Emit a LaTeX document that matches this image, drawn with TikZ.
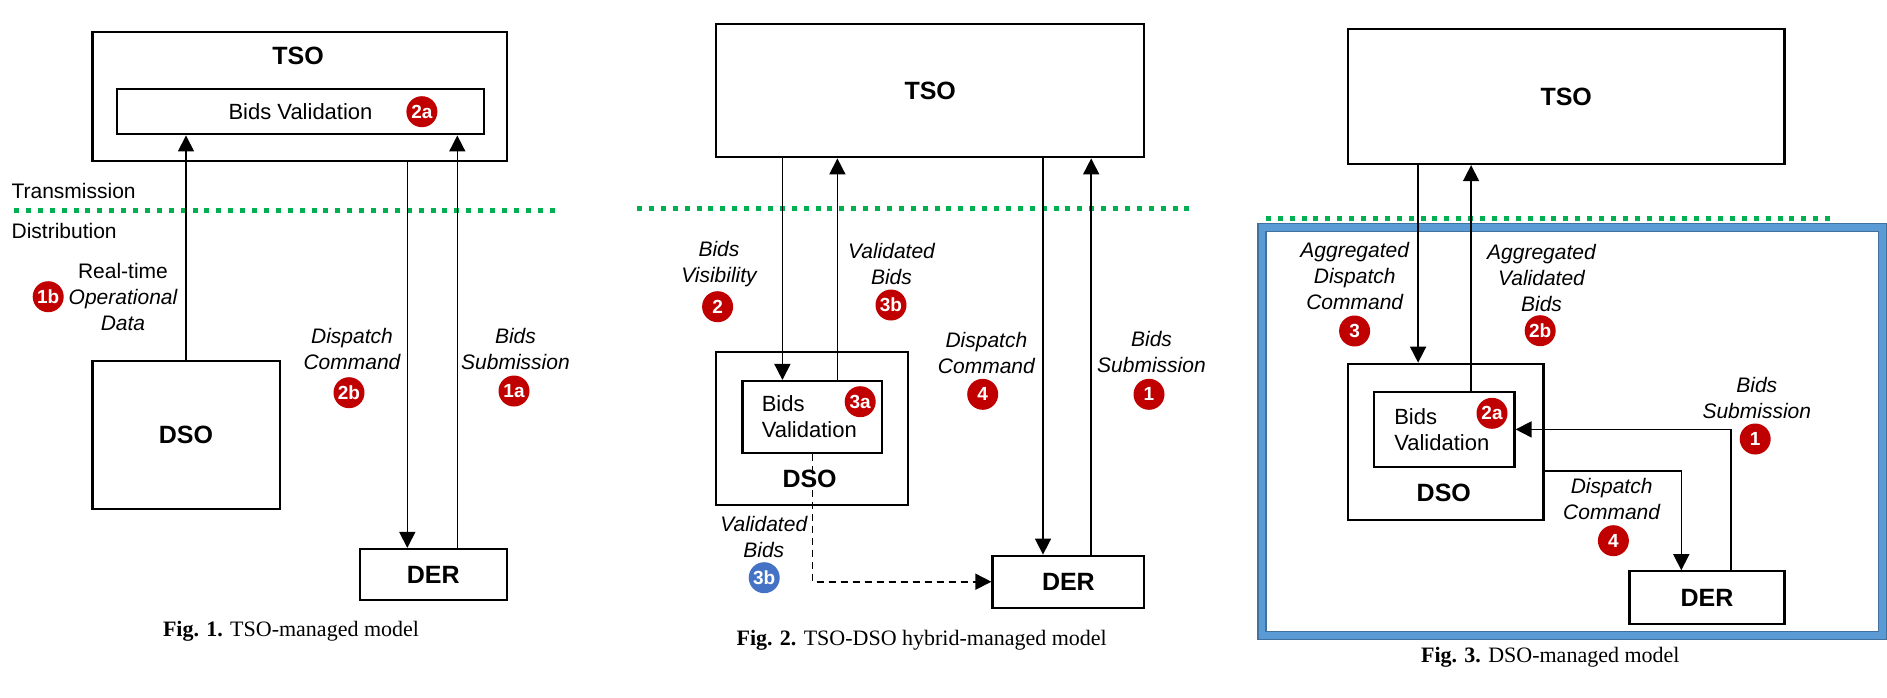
\documentclass[tikz,border=0pt]{standalone}
\usepackage{fontspec}
\setmainfont{Liberation Sans}
\newfontfamily\capfont{Liberation Serif}
\usetikzlibrary{arrows.meta,calc}
\definecolor{deep}{HTML}{000000}
\definecolor{badgered}{HTML}{C00000}
\definecolor{badgeblue}{HTML}{4472C4}
\definecolor{gridgreen}{HTML}{00B050}
\definecolor{frameblue}{HTML}{5B9BD5}
\definecolor{frameedge}{HTML}{41719C}
\tikzset{
  entity/.style={draw=deep, line width=1.1pt, fill=white, inner sep=0pt,
    font=\fontsize{12.5}{14}\selectfont\bfseries},
  title/.style={inner sep=0pt, font=\fontsize{12.5}{14}\selectfont\bfseries},
  inbox/.style={draw=deep, line width=1.1pt, fill=white, inner ysep=0pt,
    align=left, font=\fontsize{11}{13}\selectfont},
  badge/.style={circle, fill=badgered, text=white, inner sep=0pt, minimum size=15.5pt,
    font=\fontsize{9.5}{10}\selectfont\bfseries},
  flow/.style={draw=deep, line width=.8pt, -{Triangle[length=8pt,width=8pt]}},
  dflow/.style={flow, dash pattern=on 3.5pt off 2.5pt},
  lbl/.style={align=center, inner sep=1pt, font=\fontsize{10.5}{13}\selectfont\itshape},
  zone/.style={inner sep=0pt, font=\fontsize{10.5}{13}\selectfont},
  boundary/.style={draw=gridgreen, line width=2.3pt, dash pattern=on 2.5pt off 3.45pt},
  frame/.style={draw=frameedge, line width=.6pt, double=frameblue, double distance=3.4pt},
  figcap/.style={inner sep=0pt, font=\capfont\fontsize{11}{13}\selectfont},
}

\begin{document}
\begin{tikzpicture}[x=0.5pt,y=-0.5pt]
\useasboundingbox (0,0) rectangle (1887,697);

% ===== Fig. 1: TSO-managed =====
\node[entity, minimum width=207.3pt, minimum height=64.5pt] (tso1) at (299.7,96.8) {};
\node[title] (tso1t) at (298,56) {TSO};
\node[inbox, minimum width=183.2pt, minimum height=22.65pt, align=center] (bv1) at (300.5,111.7) {Bids Validation};
\node[badge] (b2a1) at (421.9,111.7) {2a};
\node[entity, minimum width=93.6pt, minimum height=73.85pt] (dso1) at (186,434.9) {DSO};
\node[entity, minimum width=73.7pt, minimum height=25.5pt] (der1) at (433.3,574.5) {DER};

\draw[boundary] (14,210.7) -- (556.5,210.7);
\node[zone, anchor=west] (trans) at (11.2,191) {Transmission};
\node[zone, anchor=west] (dist) at (11.2,230.7) {Distribution};

\coordinate (dc1) at ($(der1.north)+(-26,0)$);
\coordinate (bs1) at ($(der1.north)+(24,0)$);
\draw[flow] (dso1.north) -- (dso1.north |- bv1.south);
\draw[flow] (dc1 |- tso1.south) -- (dc1);
\draw[flow] (bs1) -- (bs1 |- bv1.south);

\node[lbl] (rt1) at (123,296.7) {\textup{Real-time}\\Operational\\Data};
\node[badge] (b1b1) at (48.2,296.7) {1b};
\node[lbl] (dcl1) at (352,349.2) {Dispatch\\Command};
\node[badge] (b2b1) at (349,392.7) {2b};
\node[lbl] (bsl1) at (515.5,349.2) {Bids\\Submission};
\node[badge] (b1a1) at (514,391) {1a};

\node[figcap] (cap1) at (291,631.7) {\textbf{Fig. 1.} TSO-managed model};

% ===== Fig. 2: TSO-DSO hybrid =====
\node[entity, minimum width=214.15pt, minimum height=66.8pt] (tso2) at (930.2,90.5) {TSO};
\node[entity, minimum width=95.8pt, minimum height=76.65pt] (dso2) at (811.8,428.4) {};
\node[title] (dso2t) at (809.6,479.3) {DSO};
\node[inbox, minimum height=35.85pt, inner xsep=9.65pt, text width=50.6pt] (bv2) at (812.4,416.9) {Bids\\Validation};
\node[badge] (b3a2) at (860.2,401.7) {3a};
\node[entity, minimum width=75.95pt, minimum height=26pt] (der2) at (1068.4,581.7) {DER};

\draw[boundary] (637,208.7) -- (1193.7,208.7);

\coordinate (bvis2) at ($(bv2.north)+(-30,0)$);
\coordinate (vb2) at ($(bv2.north)+(25,0)$);
\coordinate (dc2) at ($(der2.north)+(-25.4,0)$);
\coordinate (bs2) at ($(der2.north)+(22.8,0)$);
\draw[flow] (bvis2 |- tso2.south) -- (bvis2);
\draw[flow] (vb2) -- (vb2 |- tso2.south);
\draw[flow] (dc2 |- tso2.south) -- (dc2);
\draw[flow] (bs2) -- (bs2 |- tso2.south);
\draw[dflow] (bv2.south) |- (der2.west);

\node[lbl] (bvl2) at (719,263.7) {Bids\\Visibility};
\node[badge] (b2) at (717.6,306.7) {2};
\node[lbl] (vbl2) at (891.5,263.7) {Validated\\Bids};
\node[badge] (b3b2) at (891,305) {3b};
\node[lbl] (dcl2) at (986.4,352.5) {Dispatch\\Command};
\node[badge] (b4) at (982.7,394.3) {4};
\node[lbl] (bsl2) at (1151.5,352.3) {Bids\\Submission};
\node[badge] (b1) at (1149,394.3) {1};
\node[lbl] (vbd2) at (763.8,537) {Validated\\Bids};
\node[badge, fill=badgeblue] (b3bd2) at (764.2,577.7) {3b};

\node[figcap] (cap2) at (921.7,640) {\textbf{Fig. 2.} TSO-DSO hybrid-managed model};

% ===== Fig. 3: DSO-managed =====
\draw[frame] (1262,227.2) rectangle (1882.4,635.8);
\node[entity, minimum width=218.35pt, minimum height=67.65pt] (tso3) at (1566.2,96.4) {TSO};
\node[entity, minimum width=97.85pt, minimum height=78.15pt] (dso3) at (1445.7,441.9) {};
\node[title] (dso3t) at (1443.8,493.3) {DSO};
\node[inbox, minimum height=37.35pt, inner xsep=10pt, text width=50.1pt] (bv3) at (1444.4,429.4) {Bids\\Validation};
\node[badge] (b2a3) at (1492,413.3) {2a};
\node[entity, minimum width=77.55pt, minimum height=26.5pt] (der3) at (1707,597.8) {DER};

\draw[boundary] (1265.8,218.3) -- (1834.7,218.3);

\coordinate (adc3) at ($(dso3.north)+(-27.6,0)$);
\coordinate (avb3) at ($(bv3.north)+(26.7,0)$);
\coordinate (bs3) at ($(der3.north)+(23.7,0)$);
\coordinate (dc3) at ($(der3.north)+(-25.7,0)$);
\coordinate (dd3) at ($(dso3.east)+(0,29)$);
\draw[flow] (adc3 |- tso3.south) -- (adc3);
\draw[flow] (avb3) -- (avb3 |- tso3.south);
\draw[flow] (bs3) |- (bv3.east);
\draw[flow] (dd3) -| (dc3);

\node[lbl] (adl3) at (1354.7,276) {Aggregated\\Dispatch\\Command};
\node[badge] (b33) at (1354.6,331) {3};
\node[lbl] (avl3) at (1541.5,277.7) {Aggregated\\Validated\\Bids};
\node[badge] (b2b3) at (1540.2,330.7) {2b};
\node[lbl] (bsl3) at (1756.8,397.7) {Bids\\Submission};
\node[badge] (b13) at (1755.2,439) {1};
\node[lbl] (dcl3) at (1611.6,499.2) {Dispatch\\Command};
\node[badge] (b43) at (1613.4,540.7) {4};

\node[figcap] (cap3) at (1550.3,657.3) {\textbf{Fig. 3.} DSO-managed model};

\end{tikzpicture}
\end{document}
